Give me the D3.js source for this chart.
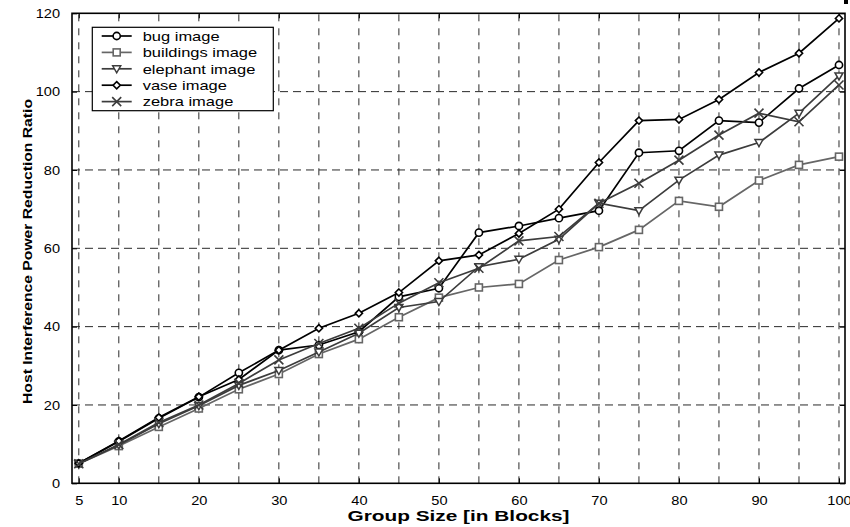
<!DOCTYPE html>
<html>
<head>
<meta charset="utf-8">
<script src="https://cdn.jsdelivr.net/npm/d3@7"></script>
<style>
html,body{margin:0;padding:0;background:#fff;}
svg{display:block;}
text{font-family:"Liberation Sans",Arial,Helvetica,sans-serif;fill:#000;}
</style>
</head>
<body>
<svg id="chart" width="850" height="527"></svg>
<script>
// ---- data ----
const groupSizes = [5,10,15,20,25,30,35,40,45,50,55,60,65,70,75,80,85,90,95,100];
const bugImage       = [5.1,10.7,16.6,22.0,28.2,34.0,35.3,38.7,47.6,49.8,64.0,65.7,67.7,69.6,84.4,84.9,92.6,92.1,100.8,106.8];
const buildingsImage = [5.0,9.5,14.4,19.1,24.0,27.9,33.0,36.8,42.4,47.4,50.0,50.9,57.0,60.3,64.7,72.1,70.6,77.3,81.3,83.4];
const elephantImage  = [5.0,9.8,15.2,19.8,25.0,28.8,33.5,38.3,44.9,46.4,55.3,57.2,62.3,71.5,69.6,77.4,83.8,87.0,94.5,104.0];
const vaseImage      = [5.1,10.8,16.8,22.1,26.5,34.0,39.6,43.4,48.7,56.8,58.3,63.8,70.0,81.9,92.6,92.9,98.0,104.9,109.8,118.7];
const zebraImage     = [5.0,9.9,15.5,20.0,25.5,31.5,35.7,39.6,46.0,51.2,54.9,61.9,63.0,71.5,76.6,82.5,88.9,94.5,92.3,101.7];
const seriesNames = ["bug image","buildings image","elephant image","vase image","zebra image"];
const xTicks = [5,10,20,30,40,50,60,70,80,90,100];
const xGrid = [5,10,15,20,25,30,35,40,45,50,55,60,65,70,75,80,85,90,95,100];
const yTicks = [0,20,40,60,80,100,120];
const xTitle = "Group Size [in Blocks]";
const yTitle = "Host Interference Power Reduction Ratio";

const seriesValues = [bugImage, buildingsImage, elephantImage, vaseImage, zebraImage];
const seriesColor = ["#000000","#666666","#3c3c3c","#000000","#3c3c3c"];
const seriesMarker = ["circle","square","triangle","diamond","cross"];

// ---- layout ----
const L = 72, R = 845, T = 13.3, B = 483.3;
const svg = d3.select("#chart");
const x = d3.scaleLinear().domain([4.15, 100.75]).range([L, R]);
const y = d3.scaleLinear().domain([0, 120]).range([B, T]);

function stretch(sel, f){
  sel.each(function(){
    const w = this.getComputedTextLength();
    d3.select(this).attr("textLength", w*f).attr("lengthAdjust","spacingAndGlyphs");
  });
}

// grid
const g = svg.append("g");
g.selectAll(".vg").data(xGrid).join("line")
  .attr("x1", d=>x(d)).attr("x2", d=>x(d)).attr("y1", B).attr("y2", T)
  .attr("stroke","#2a2a2a").attr("stroke-width",1).attr("stroke-dasharray","7,7");
g.selectAll(".hg").data(yTicks.filter(d=>d>0 && d<120)).join("line")
  .attr("x1", L).attr("x2", R).attr("y1", d=>y(d)).attr("y2", d=>y(d))
  .attr("stroke","#2a2a2a").attr("stroke-width",1).attr("stroke-dasharray","8,5");

// axes via d3 axis (inward ticks)
const axB = svg.append("g").attr("transform",`translate(0,${B})`)
  .call(d3.axisBottom(x).tickValues(xTicks).tickSizeInner(-5).tickSizeOuter(0).tickPadding(12).tickFormat(d3.format("d")));
const axT = svg.append("g").attr("transform",`translate(0,${T})`)
  .call(d3.axisTop(x).tickValues(xTicks).tickSizeInner(-5).tickSizeOuter(0).tickFormat(""));
const axL = svg.append("g").attr("transform",`translate(${L},0)`)
  .call(d3.axisLeft(y).tickValues(yTicks).tickSizeInner(-5).tickSizeOuter(0).tickPadding(12).tickFormat(d3.format("d")));
const axR = svg.append("g").attr("transform",`translate(${R},0)`)
  .call(d3.axisRight(y).tickValues(yTicks).tickSizeInner(-5).tickSizeOuter(0).tickFormat(""));
[axB,axT,axL,axR].forEach(a=>{
  a.select(".domain").remove();
  a.selectAll("line").attr("stroke","#000").attr("stroke-width",1);
  a.selectAll("text").attr("font-size","13px").attr("fill","#000")
   .style("font-family","'Liberation Sans',Arial,sans-serif");
});
axB.selectAll("text").attr("dy","0.71em");
stretch(axB.selectAll("text"),1.12);
stretch(axL.selectAll("text"),1.12);

// box
svg.append("rect").attr("x",L).attr("y",T).attr("width",R-L).attr("height",B-T)
  .attr("fill","none").attr("stroke","#000").attr("stroke-width",1.6);

// marker drawing
function drawMarker(sel, type, color){
  if(type==="circle"){
    sel.append("circle").attr("r",3.6).attr("fill","#fff").attr("stroke",color).attr("stroke-width",1.6);
  } else if(type==="square"){
    sel.append("rect").attr("x",-3.5).attr("y",-3.5).attr("width",7).attr("height",7)
      .attr("fill","#fff").attr("stroke",color).attr("stroke-width",1.6);
  } else if(type==="triangle"){
    sel.append("path").attr("d","M-4,-3L4,-3L0,4Z").attr("fill","#fff").attr("stroke",color).attr("stroke-width",1.5);
  } else if(type==="diamond"){
    sel.append("path").attr("d","M0,-3.6L3.6,0L0,3.6L-3.6,0Z").attr("fill","#fff").attr("stroke",color).attr("stroke-width",1.6);
  } else if(type==="cross"){
    sel.append("path").attr("d","M-4.5,-4.5L4.5,4.5M-4.5,4.5L4.5,-4.5").attr("fill","none").attr("stroke",color).attr("stroke-width",1.6);
  }
}

// series
const line = d3.line().x((d,i)=>x(groupSizes[i])).y(d=>y(d));
seriesValues.forEach((vals,si)=>{
  const sg = svg.append("g");
  sg.append("path").attr("d", line(vals)).attr("fill","none")
    .attr("stroke", seriesColor[si]).attr("stroke-width",1.7);
  vals.forEach((v,i)=>{
    const m = sg.append("g").attr("transform",`translate(${x(groupSizes[i])},${y(v)})`);
    drawMarker(m, seriesMarker[si], seriesColor[si]);
  });
});

// legend
const lg = svg.append("g");
lg.append("rect").attr("x",92.3).attr("y",27.3).attr("width",181).attr("height",83.4)
  .attr("fill","#fff").attr("stroke","#000").attr("stroke-width",1.2);
seriesNames.forEach((name,i)=>{
  const yy = 36 + i*16.4;
  lg.append("line").attr("x1",101.7).attr("x2",131.7).attr("y1",yy).attr("y2",yy)
    .attr("stroke",seriesColor[i]).attr("stroke-width",1.7);
  const m = lg.append("g").attr("transform",`translate(116.7,${yy})`);
  drawMarker(m, seriesMarker[i], seriesColor[i]);
  const t = lg.append("text").attr("x",142.7).attr("y",yy).attr("dy","0.36em")
    .attr("font-size","13.5px").text(name);
  stretch(t,1.22);
});

// axis titles
const xt = svg.append("text").attr("x",(L+R)/2).attr("y",521).attr("text-anchor","middle")
  .attr("font-size","15.5px").attr("font-weight","bold").text(xTitle);
xt.attr("textLength",222).attr("lengthAdjust","spacingAndGlyphs");
const yt = svg.append("text").attr("transform",`translate(32,251.5) rotate(-90)`)
  .attr("text-anchor","middle").attr("font-size","13.5px").attr("font-weight","bold").text(yTitle);
yt.attr("textLength",305).attr("lengthAdjust","spacingAndGlyphs");

// small corner mark
svg.append("rect").attr("x",844).attr("y",0).attr("width",4).attr("height",4).attr("fill","#000");
</script>
</body>
</html>
